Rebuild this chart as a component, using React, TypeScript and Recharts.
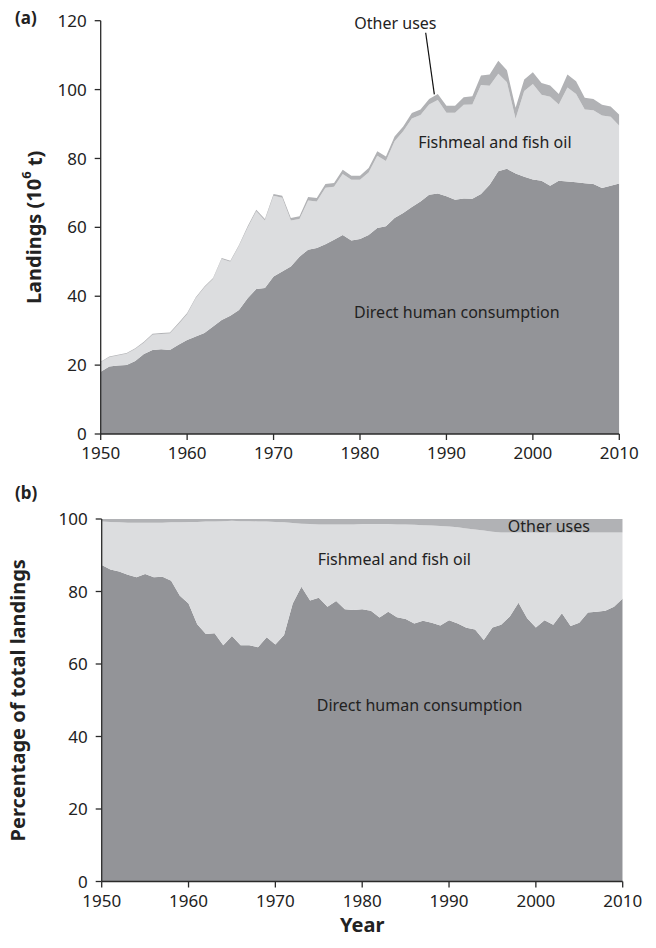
import { Area, AreaChart, Label, ReferenceDot, ReferenceLine, XAxis, YAxis } from "recharts";

const years = [
  1950, 1951, 1952, 1953, 1954, 1955, 1956, 1957, 1958, 1959,
  1960, 1961, 1962, 1963, 1964, 1965, 1966, 1967, 1968, 1969,
  1970, 1971, 1972, 1973, 1974, 1975, 1976, 1977, 1978, 1979,
  1980, 1981, 1982, 1983, 1984, 1985, 1986, 1987, 1988, 1989,
  1990, 1991, 1992, 1993, 1994, 1995, 1996, 1997, 1998, 1999,
  2000, 2001, 2002, 2003, 2004, 2005, 2006, 2007, 2008, 2009,
  2010,
];

// (a) landings, 10^6 t
const humanLandings = [
  18.1, 19.6, 19.9, 20.0, 21.2, 23.2, 24.4, 24.6, 24.4, 25.9,
  27.3, 28.3, 29.3, 31.2, 33.1, 34.3, 36.0, 39.4, 42.1, 42.4,
  45.7, 47.2, 48.6, 51.5, 53.5, 54.0, 55.1, 56.4, 57.8, 56.2,
  56.6, 57.8, 59.8, 60.3, 62.7, 64.2, 65.9, 67.5, 69.5, 69.8,
  69.0, 68.0, 68.4, 68.3, 69.7, 72.4, 76.3, 77.0, 75.6, 74.7,
  73.9, 73.5, 72.1, 73.5, 73.3, 73.1, 72.8, 72.6, 71.4, 72.1,
  72.7,
];
const fishmealLandings = [
  2.7, 2.7, 2.9, 3.3, 3.5, 3.3, 4.4, 4.4, 4.8, 6.0,
  7.5, 11.1, 13.2, 13.8, 17.7, 15.7, 18.6, 20.5, 22.6, 19.6,
  23.5, 21.4, 13.4, 10.9, 14.3, 13.5, 16.4, 15.4, 17.7, 17.6,
  17.2, 18.1, 21.0, 19.0, 22.3, 23.7, 25.7, 25.1, 26.2, 27.2,
  24.3, 25.3, 27.2, 27.4, 31.6, 28.7, 28.3, 25.1, 15.9, 24.9,
  27.7, 25.0, 25.8, 22.2, 27.3, 25.6, 21.4, 21.4, 21.1, 20.0,
  16.8,
];
const otherLandings = [
  0.2, 0.2, 0.2, 0.2, 0.2, 0.3, 0.3, 0.3, 0.3, 0.3,
  0.3, 0.3, 0.3, 0.3, 0.3, 0.3, 0.3, 0.4, 0.4, 0.4,
  0.5, 0.6, 0.7, 0.8, 1.0, 1.0, 1.1, 1.1, 1.2, 1.2,
  1.2, 1.3, 1.3, 1.3, 1.4, 1.4, 1.6, 1.6, 1.6, 1.7,
  2.0, 2.0, 2.2, 2.4, 2.8, 3.3, 3.8, 3.5, 3.2, 3.3,
  3.4, 3.4, 3.3, 3.0, 3.8, 3.7, 3.4, 3.3, 3.1, 3.0,
  3.2,
];

// (b) percentage of total landings
const humanShare = [
  87.3, 86.1, 85.5, 84.6, 83.9, 84.8, 83.9, 84.1, 83.0, 78.8,
  76.7, 71.0, 68.3, 68.5, 65.2, 67.7, 65.2, 65.2, 64.6, 67.4,
  65.4, 68.0, 76.7, 81.3, 77.5, 78.3, 75.8, 77.4, 75.1, 74.9,
  75.1, 74.7, 72.8, 74.4, 72.9, 72.4, 71.2, 71.9, 71.4, 70.6,
  72.1, 71.2, 70.0, 69.5, 66.6, 70.1, 70.8, 73.1, 76.9, 72.6,
  70.1, 72.1, 70.8, 74.0, 70.5, 71.4, 74.2, 74.4, 74.7, 75.8,
  78.1,
];
const fishmealShare = [
  12.0, 13.1, 13.6, 14.4, 15.1, 14.2, 15.1, 14.9, 16.1, 20.3,
  22.5, 28.2, 31.0, 30.8, 34.2, 31.8, 34.2, 34.2, 34.7, 31.9,
  33.8, 31.1, 22.2, 17.4, 21.1, 20.2, 22.7, 21.1, 23.4, 23.6,
  23.5, 23.9, 25.8, 24.2, 25.6, 26.1, 27.2, 26.4, 26.8, 27.5,
  25.8, 26.5, 27.4, 27.6, 30.2, 26.4, 25.5, 23.2, 19.4, 23.7,
  26.2, 24.2, 25.5, 22.3, 25.8, 24.9, 22.1, 21.9, 21.6, 20.5,
  18.2,
];
const otherShare = [
  0.7, 0.8, 0.9, 1.0, 1.0, 1.0, 1.0, 1.0, 0.9, 0.9,
  0.8, 0.8, 0.7, 0.7, 0.6, 0.5, 0.6, 0.6, 0.7, 0.7,
  0.8, 0.9, 1.1, 1.3, 1.4, 1.5, 1.5, 1.5, 1.5, 1.5,
  1.4, 1.4, 1.4, 1.4, 1.5, 1.5, 1.6, 1.7, 1.8, 1.9,
  2.1, 2.3, 2.6, 2.9, 3.2, 3.5, 3.7, 3.7, 3.7, 3.7,
  3.7, 3.7, 3.7, 3.7, 3.7, 3.7, 3.7, 3.7, 3.7, 3.7,
  3.7,
];

const yearTicks = [1950, 1960, 1970, 1980, 1990, 2000, 2010];
const landingsTicks = [0, 20, 40, 60, 80, 100, 120];
const shareTicks = [0, 20, 40, 60, 80, 100];

const landingsData = years.map((year, i) => ({
  year,
  human: humanLandings[i],
  fishmeal: fishmealLandings[i],
  other: otherLandings[i],
}));
const shareData = years.map((year, i) => ({
  year,
  human: humanShare[i],
  fishmeal: fishmealShare[i],
  other: otherShare[i],
}));

const FONT = "'Noto Sans', sans-serif";
const INK = "#222";
const AXIS = "#2a2a2a";
const DARK = "#939498";
const LIGHT = "#dcdddf";
const MID = "#b1b2b5";

const tickStyle = { fill: INK, fontSize: 17, fontFamily: FONT };
const noteStyle = { fill: INK, fontSize: 16, fontFamily: FONT };

function Areas() {
  return [
    <Area key="h" type="linear" dataKey="human" stackId="s" stroke="none" fill={DARK} fillOpacity={1} isAnimationActive={false} />,
    <Area key="f" type="linear" dataKey="fishmeal" stackId="s" stroke="none" fill={LIGHT} fillOpacity={1} isAnimationActive={false} />,
    <Area key="o" type="linear" dataKey="other" stackId="s" stroke="none" fill={MID} fillOpacity={1} isAnimationActive={false} />,
  ];
}

function note(x: number, y: number, text: string) {
  return (
    <ReferenceDot
      x={x}
      y={y}
      r={1}
      fill="none"
      stroke="none"
      label={{ value: text, position: "center", ...noteStyle }}
    />
  );
}

function axisTitle(x: number, children: React.ReactNode) {
  return (props: any) => {
    const vb = props.viewBox;
    const cy = vb.y + vb.height / 2;
    return (
      <text
        x={x}
        y={cy}
        transform={`rotate(-90 ${x} ${cy})`}
        textAnchor="middle"
        dominantBaseline="central"
        fontFamily={FONT}
        fontWeight={700}
        fontSize={20}
        fill={INK}
      >
        {children}
      </text>
    );
  };
}

export default function App() {
  return (
    <div style={{ position: "absolute", left: 0, top: 0, width: 656, height: 948, background: "#fff", fontFamily: FONT }}>
      <div style={{ position: "absolute", left: 15, top: 6, fontSize: 17, fontWeight: 700, color: INK }}>(a)</div>
      <div style={{ position: "absolute", left: 15, top: 481, fontSize: 17, fontWeight: 700, color: INK }}>(b)</div>

      <div style={{ position: "absolute", left: 0, top: 0 }}>
        <AreaChart width={656} height={480} data={landingsData} margin={{ top: 20.7, right: 36.7, bottom: 0, left: 0 }}>
          <XAxis
            dataKey="year"
            type="number"
            domain={[1950, 2010]}
            ticks={yearTicks}
            allowDataOverflow
            height={46}
            tick={tickStyle}
            tickSize={6}
            tickMargin={7}
            axisLine={{ stroke: AXIS, strokeWidth: 1.3 }}
            tickLine={{ stroke: AXIS, strokeWidth: 1.3 }}
          />
          <YAxis
            type="number"
            domain={[0, 120]}
            ticks={landingsTicks}
            allowDataOverflow
            width={100.7}
            tick={tickStyle}
            tickSize={6}
            tickMargin={8}
            axisLine={{ stroke: AXIS, strokeWidth: 1.3 }}
            tickLine={{ stroke: AXIS, strokeWidth: 1.3 }}
          >
            <Label
              content={axisTitle(
                34,
                <>
                  Landings (10
                  <tspan fontSize={13} dy={-8}>6</tspan>
                  <tspan dy={8}> t)</tspan>
                </>
              )}
            />
          </YAxis>
          {Areas()}
          {note(1995.6, 84.6, "Fishmeal and fish oil")}
          {note(1991.2, 35.4, "Direct human consumption")}
          {note(1984.1, 119.1, "Other uses")}
          <ReferenceLine
            segment={[
              { x: 1987.6, y: 116.5 },
              { x: 1988.6, y: 98.6 },
            ]}
            stroke="#111"
            strokeWidth={1.2}
          />
        </AreaChart>
      </div>

      <div style={{ position: "absolute", left: 0, top: 480 }}>
        <AreaChart width={656} height={468} data={shareData} margin={{ top: 39, right: 33.3, bottom: 0, left: 0 }}>
          <XAxis
            dataKey="year"
            type="number"
            domain={[1950, 2010]}
            ticks={yearTicks}
            allowDataOverflow
            height={66.5}
            tick={tickStyle}
            tickSize={6}
            tickMargin={7}
            axisLine={{ stroke: AXIS, strokeWidth: 1.3 }}
            tickLine={{ stroke: AXIS, strokeWidth: 1.3 }}
          >
            <Label
              content={(props: any) => {
                const vb = props.viewBox;
                return (
                  <text
                    x={vb.x + vb.width / 2}
                    y={452}
                    textAnchor="middle"
                    fontFamily={FONT}
                    fontWeight={700}
                    fontSize={20}
                    fill={INK}
                  >
                    Year
                  </text>
                );
              }}
            />
          </XAxis>
          <YAxis
            type="number"
            domain={[0, 100]}
            ticks={shareTicks}
            allowDataOverflow
            width={101.7}
            tick={tickStyle}
            tickSize={6}
            tickMargin={8}
            axisLine={{ stroke: AXIS, strokeWidth: 1.3 }}
            tickLine={{ stroke: AXIS, strokeWidth: 1.3 }}
          >
            <Label content={axisTitle(17.5, "Percentage of total landings")} />
          </YAxis>
          {Areas()}
          {note(1983.7, 88.9, "Fishmeal and fish oil")}
          {note(1986.6, 48.7, "Direct human consumption")}
          {note(2001.5, 98.1, "Other uses")}
        </AreaChart>
      </div>
    </div>
  );
}
